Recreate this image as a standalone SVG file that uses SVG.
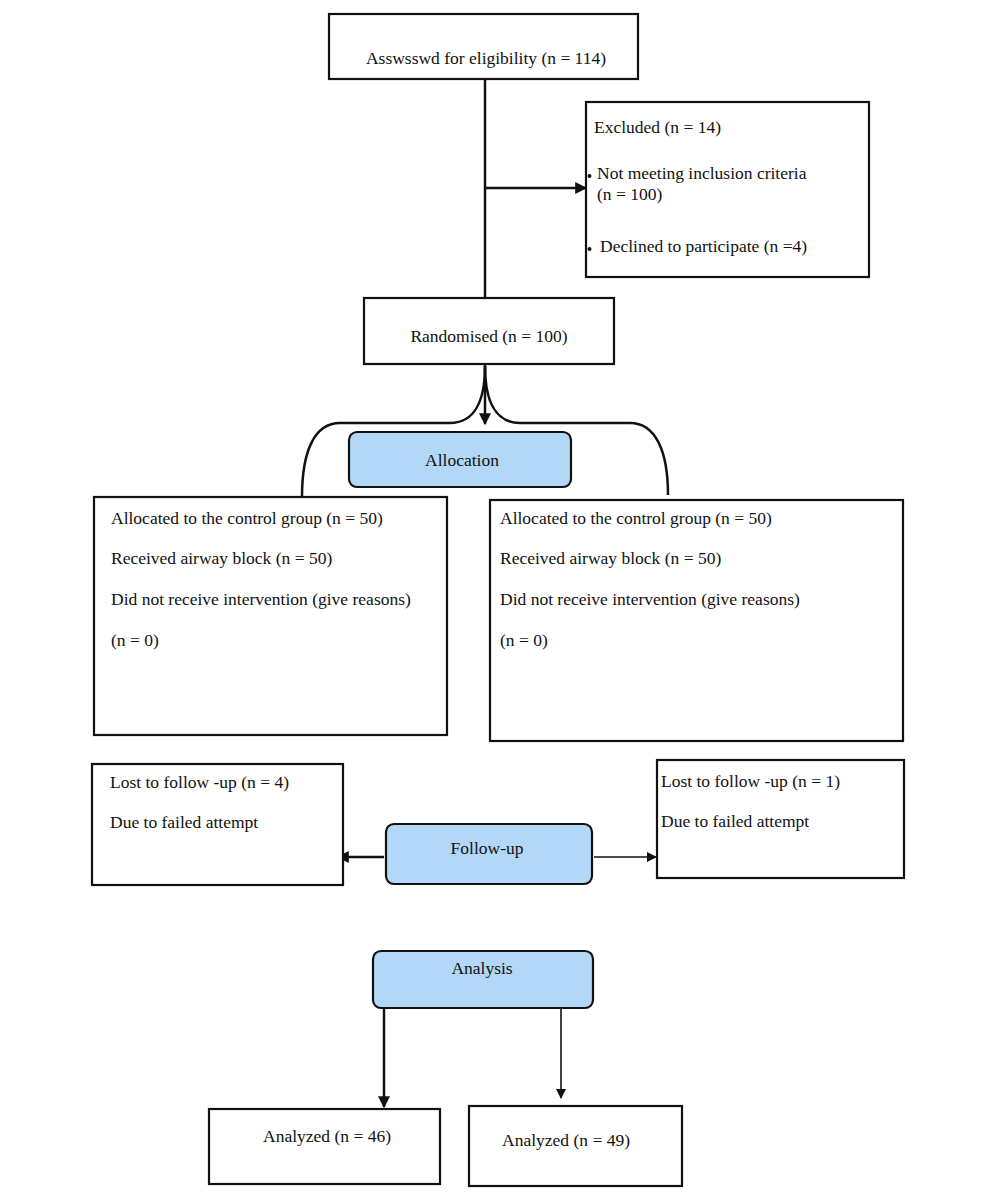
<svg xmlns="http://www.w3.org/2000/svg" width="1000" height="1197" viewBox="0 0 1000 1197">
<defs>
<style>
.box{fill:#fff;stroke:#111;stroke-width:2.2}
.blue{fill:#b3d7f7;stroke:#111;stroke-width:2.2}
.t{font-family:"Liberation Serif","DejaVu Serif",serif;font-size:17.5px;fill:#111}
.c{text-anchor:middle}
.ln{fill:none;stroke:#111;stroke-width:2.5}
.thin{fill:none;stroke:#111;stroke-width:1.6}
</style>
<marker id="a" viewBox="0 0 10 10" refX="9" refY="5" markerWidth="13" markerHeight="12" orient="auto" markerUnits="userSpaceOnUse">
<path d="M0,0L10,5L0,10z" fill="#111"/>
</marker>
<marker id="b" viewBox="0 0 10 10" refX="9" refY="5" markerWidth="11" markerHeight="10" orient="auto" markerUnits="userSpaceOnUse">
<path d="M0,0L10,5L0,10z" fill="#111"/>
</marker>
</defs>
<rect width="1000" height="1197" fill="#fff"/>
<g id="connectors">
<path class="ln" d="M485,79V298"/>
<path class="ln" d="M485,188H586" marker-end="url(#a)"/>
<path class="ln" d="M485,364V424" marker-end="url(#a)"/>
<path class="ln" d="M485,366C485,400 475,423 450,423H340C315,423 302,450 302,497"/>
<path class="ln" d="M485,366C485,400 495,423 520,423H630C655,423 668,450 668,495"/>
<path class="ln" d="M384,857H338" marker-end="url(#a)"/>
<path class="thin" d="M594,857H656" marker-end="url(#b)"/>
<path class="ln" d="M384,1008V1107" marker-end="url(#a)"/>
<path class="thin" d="M561,1008V1098" marker-end="url(#b)"/>
</g>
<g id="assessed">
<rect class="box" x="329" y="14" width="309" height="65"/>
<text class="t c" x="486" y="64">Asswsswd for eligibility (n = 114)</text>
</g>
<g id="excluded">
<rect class="box" x="586" y="102" width="283" height="175"/>
<text class="t" x="594" y="133">Excluded (n = 14)</text>
<circle cx="589.5" cy="176" r="2" fill="#111"/>
<text class="t" x="597" y="179">Not meeting inclusion criteria</text>
<text class="t" x="597" y="200">(n = 100)</text>
<circle cx="589.5" cy="249" r="2" fill="#111"/>
<text class="t" x="600" y="252">Declined to participate (n =4)</text>
</g>
<g id="randomised">
<rect class="box" x="364" y="298" width="250" height="66"/>
<text class="t c" x="489" y="342">Randomised (n = 100)</text>
</g>
<g id="allocation">
<rect class="blue" x="349" y="432" width="222" height="55" rx="8"/>
<text class="t c" x="462" y="466">Allocation</text>
</g>
<g id="group-left">
<rect class="box" x="94" y="497" width="353" height="238"/>
<text class="t" x="111" y="524">Allocated to the control group (n = 50)</text>
<text class="t" x="111" y="564">Received airway block (n = 50)</text>
<text class="t" x="111" y="605">Did not receive intervention (give reasons)</text>
<text class="t" x="111" y="646">(n = 0)</text>
</g>
<g id="group-right">
<rect class="box" x="490" y="500" width="413" height="241"/>
<text class="t" x="500" y="524">Allocated to the control group (n = 50)</text>
<text class="t" x="500" y="564">Received airway block (n = 50)</text>
<text class="t" x="500" y="605">Did not receive intervention (give reasons)</text>
<text class="t" x="500" y="646">(n = 0)</text>
</g>
<g id="lost-left">
<rect class="box" x="92" y="764" width="251" height="121"/>
<text class="t" x="110" y="788">Lost to follow -up (n = 4)</text>
<text class="t" x="110" y="828">Due to failed attempt</text>
</g>
<g id="followup">
<rect class="blue" x="386" y="824" width="206" height="60" rx="8"/>
<text class="t c" x="487" y="854">Follow-up</text>
</g>
<g id="lost-right">
<rect class="box" x="657" y="760" width="247" height="118"/>
<text class="t" x="661" y="787">Lost to follow -up (n = 1)</text>
<text class="t" x="661" y="827">Due to failed attempt</text>
</g>
<g id="analysis">
<rect class="blue" x="373" y="951" width="220" height="57" rx="8"/>
<text class="t c" x="482" y="974">Analysis</text>
</g>
<g id="analyzed-left">
<rect class="box" x="209" y="1109" width="231" height="75"/>
<text class="t c" x="327" y="1142">Analyzed (n = 46)</text>
</g>
<g id="analyzed-right">
<rect class="box" x="469" y="1106" width="213" height="80"/>
<text class="t c" x="566" y="1146">Analyzed (n = 49)</text>
</g>
</svg>
